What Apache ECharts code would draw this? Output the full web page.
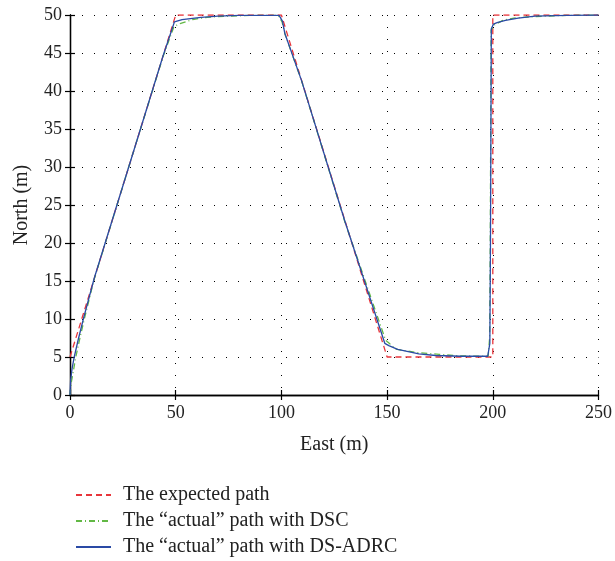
<!DOCTYPE html>
<html>
<head>
<meta charset="utf-8">
<script src="https://cdn.jsdelivr.net/npm/echarts@6/dist/echarts.min.js"></script>
<style>
html, body { margin: 0; padding: 0; background: #fff; }
#chart { width: 615px; height: 561px; }
</style>
</head>
<body>
<div id="chart"></div>
<script>
// path data (east / north, metres)
var expectedEast  = [0, 50, 100, 150, 200, 200, 250];
var expectedNorth = [5, 50, 50, 5, 5, 50, 50];

var dscEast  = [0, 0.5, 1.5, 2.6, 4.3, 6.6, 11.4, 28, 44, 49.2, 52.4, 58, 65, 75, 85, 98.5, 100.3, 101.8, 109.7, 130, 149.3, 151, 154, 163.5, 174.6, 185, 197.8, 198.5, 198.8, 199.2, 200.8, 204.8, 210, 220, 235, 250];
var dscNorth = [0, 1.5, 3, 4.8, 7, 9.8, 15.2, 30.2, 44.5, 48.5, 48.9, 49.4, 49.7, 49.85, 49.95, 49.95, 49.1, 47.4, 41.2, 22.8, 7.2, 6.8, 6.05, 5.6, 5.35, 5.15, 5.1, 7.5, 20, 48.0, 48.7, 49.3, 49.6, 49.8, 49.95, 50];

var adrcEast  = [0, 0.3, 1, 2, 3.9, 6.5, 11.5, 28, 44, 48.4, 49.4, 53, 62, 70, 80, 98.9, 100.5, 101.6, 109.5, 130, 148.9, 150.8, 155, 165, 173, 185, 197.6, 198.6, 198.9, 199.3, 200.3, 202, 206, 212, 220, 235, 250];
var adrcNorth = [0, 2, 3.5, 5, 7.3, 10.2, 15.4, 30.2, 44.6, 48.25, 49.1, 49.4, 49.7, 49.85, 49.95, 49.95, 49.2, 47.6, 41.4, 22.9, 6.8, 6.5, 6.0, 5.4, 5.2, 5.1, 5.1, 6.8, 20, 48.2, 48.8, 49.0, 49.3, 49.6, 49.85, 49.95, 50];

var seriesNames = ['The expected path', 'The \u201cactual\u201d path with DSC', 'The \u201cactual\u201d path with DS-ADRC'];

function zip(a, b) {
	var out = [];
	for (var i = 0; i < a.length; i++) out.push([a[i], b[i]]);
	return out;
}

var serif = '"Liberation Serif", "DejaVu Serif", serif';
var dotted = { show: true, lineStyle: { color: '#000', width: 1, type: [1, 11] } };
var axisLine = { show: true, lineStyle: { color: '#000', width: 1.3 } };
var tick = { show: true, inside: true, length: 5, lineStyle: { color: '#000', width: 1.2 } };

var chart = echarts.init(document.getElementById('chart'));
var option = {
	animation: false,
	backgroundColor: '#fff',
	grid: { left: 70, right: 15, top: 15, bottom: 166 },
	legend: {
		orient: 'vertical',
		left: 75,
		top: 485,
		height: 76,
		padding: 0,
		itemWidth: 35,
		itemHeight: 14,
		itemGap: 6,
		data: seriesNames,
		itemStyle: { opacity: 0 },
		textStyle: { fontFamily: serif, fontSize: 20, color: '#222', lineHeight: 20, padding: [0, 0, 0, 7] }
	},
	xAxis: [{
		type: 'value', min: 0, max: 250, interval: 50,
		name: 'East (m)', nameLocation: 'middle', nameGap: 40,
		nameTextStyle: { fontFamily: serif, fontSize: 20, color: '#222' },
		axisLine: axisLine, axisTick: tick, splitLine: dotted,
		axisLabel: { fontFamily: serif, fontSize: 18, color: '#222', margin: 9 }
	}, {
		type: 'value', min: 0, max: 250, interval: 50, position: 'top',
		axisLine: axisLine, axisTick: tick, splitLine: { show: false },
		axisLabel: { show: false }
	}],
	yAxis: [{
		type: 'value', min: 0, max: 50, interval: 5,
		name: 'North (m)', nameLocation: 'middle', nameGap: 38,
		nameTextStyle: { fontFamily: serif, fontSize: 20, color: '#222' },
		axisLine: axisLine, axisTick: tick, splitLine: dotted,
		axisLabel: { fontFamily: serif, fontSize: 18, color: '#222', margin: 8 }
	}, {
		type: 'value', min: 0, max: 50, interval: 5, position: 'right',
		axisLine: axisLine, axisTick: tick, splitLine: { show: false },
		axisLabel: { show: false }
	}],
	series: [{
		name: seriesNames[0], type: 'line', showSymbol: false, symbol: 'none',
		data: zip(expectedEast, expectedNorth),
		lineStyle: { color: '#e8353b', width: 1.3, type: [6, 4] },
		itemStyle: { color: '#e8353b' }
	}, {
		name: seriesNames[1], type: 'line', showSymbol: false, symbol: 'none',
		data: zip(dscEast, dscNorth),
		lineStyle: { color: '#62b845', width: 1.3, type: [6, 3, 1, 3] },
		itemStyle: { color: '#62b845' }
	}, {
		name: seriesNames[2], type: 'line', showSymbol: false, symbol: 'none',
		data: zip(adrcEast, adrcNorth),
		lineStyle: { color: '#2a4aa5', width: 1.3 },
		itemStyle: { color: '#2a4aa5' }
	}]
};
chart.setOption(option);
</script>
</body>
</html>
